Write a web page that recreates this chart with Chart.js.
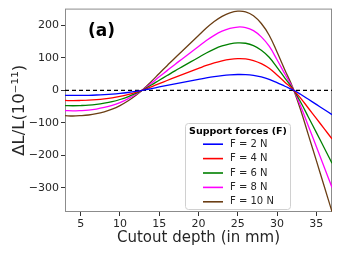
<!DOCTYPE html>
<html>
<head>
<meta charset="utf-8">
<script src="https://cdn.jsdelivr.net/npm/chart.js@4"></script>
<style>
  html, body { margin: 0; padding: 0; background: #fff; }
  #wrap { width: 339px; height: 254px; }
</style>
</head>
<body>
<div id="wrap"><canvas id="cutoutChart" width="339" height="254"></canvas></div>
<script>
// cutout depth in mm
const depths = [3, 4, 5, 6, 7, 8, 9, 10, 11, 12, 13, 14, 15, 16, 17, 18, 19, 20,
    21, 22, 23, 24, 25, 26, 27, 28, 29, 30, 31, 32, 33, 34, 35, 36, 37];

// dL/L (1e-11), one list per support force
const f2N = [-15.6, -15.8, -15.6, -15.2, -14.4, -13.2, -11.6, -9.4, -6.6, -3.2, 0.8, 5.5, 10.4, 15.2, 20, 24.6, 29.2, 33.8,
    38.4, 42.4, 45.6, 47.8, 48.8, 48.4, 46, 41.2, 34, 23.6, 12.6, 1.8, -12, -27.6, -43.2, -59, -74.8];
const f4N = [-31.2, -31.6, -31.2, -30.4, -28.8, -26.4, -23.2, -18.8, -13.2, -6.4, 1.6, 11, 20.8, 30.4, 40, 49.2, 58.4, 67.6,
    76.8, 84.8, 91.2, 95.6, 97.6, 96.8, 92, 82.4, 68, 47.2, 25.2, 3.6, -24, -55.2, -86.4, -118, -149.6];
const f6N = [-46.8, -47.4, -46.8, -45.6, -43.2, -39.6, -34.8, -28.2, -19.8, -9.6, 2.4, 16.5, 31.2, 45.6, 60, 73.8, 87.6, 101.4,
    115.2, 127.2, 136.8, 143.4, 146.4, 145.2, 138, 123.6, 102, 70.8, 37.8, 5.4, -36, -82.8, -129.6, -177, -224.4];
const f8N = [-62.4, -63.2, -62.4, -60.8, -57.6, -52.8, -46.4, -37.6, -26.4, -12.8, 3.2, 22, 41.6, 60.8, 80, 98.4, 116.8, 135.2,
    153.6, 169.6, 182.4, 191.2, 195.2, 193.6, 184, 164.8, 136, 94.4, 50.4, 7.2, -48, -110.4, -172.8, -236, -299.2];
const f10N = [-78, -79, -78, -76, -72, -66, -58, -47, -33, -16, 4, 27.5, 52, 76, 100, 123, 146, 169,
    192, 212, 228, 239, 244, 242, 230, 206, 170, 118, 63, 9, -60, -138, -216, -295, -374];

const seriesLabels = ['F = 2 N', 'F = 4 N', 'F = 6 N', 'F = 8 N', 'F = 10 N'];
const seriesColors = ['#0000ff', '#ff0000', '#008000', '#ff00ff', '#6b3e14'];

const xTicks = [5, 10, 15, 20, 25, 30, 35];
const yTicks = [-300, -200, -100, 0, 100, 200];

const FONT = 'DejaVu Sans';

function toPoints(values) {
    return values.map((v, i) => ({ x: depths[i], y: v }));
}

const seriesData = [f2N, f4N, f6N, f8N, f10N];

const datasets = seriesData.map((vals, i) => ({
    label: seriesLabels[i],
    data: toPoints(vals),
    borderColor: seriesColors[i],
    backgroundColor: seriesColors[i],
    borderWidth: 1.3,
    pointRadius: 0,
    tension: 0.4,
    order: 1
}));

// zero reference line
datasets.push({
    label: 'zero',
    data: [{ x: depths[0], y: 0 }, { x: depths[depths.length - 1], y: 0 }],
    borderColor: '#000',
    borderWidth: 1.2,
    borderDash: [4, 3],
    pointRadius: 0,
    order: 2
});

// frame, panel tag and legend box
const decorPlugin = {
    id: 'decor',
    beforeDatasetsDraw(chart) {
        const { ctx, chartArea: a } = chart;
        ctx.save();
        ctx.strokeStyle = '#8c8c8c';
        ctx.lineWidth = 1;
        ctx.strokeRect(a.left + 0.5, a.top + 0.5, a.right - a.left - 1, a.bottom - a.top - 1);
        ctx.restore();
    },
    afterDraw(chart) {
        const { ctx } = chart;
        ctx.save();
        ctx.fillStyle = '#000';
        ctx.font = 'bold 17px "' + FONT + '"';
        ctx.textBaseline = 'middle';
        ctx.fillText('(a)', 88, 32);

        // legend
        const lx = 185, ly = 123, lw = 105, lh = 86;
        ctx.fillStyle = 'rgba(255,255,255,0.9)';
        ctx.strokeStyle = '#d0d0d0';
        ctx.lineWidth = 1;
        ctx.beginPath();
        ctx.roundRect(lx + 0.5, ly + 0.5, lw, lh, 3);
        ctx.fill();
        ctx.stroke();

        ctx.fillStyle = '#000';
        ctx.font = 'bold 9.5px "' + FONT + '"';
        ctx.textAlign = 'center';
        ctx.fillText('Support forces (F)', 238, 131.5);

        ctx.textAlign = 'left';
        ctx.font = '10px "' + FONT + '"';
        seriesLabels.forEach((lab, i) => {
            const y = 144.2 + i * 14.4;
            ctx.strokeStyle = seriesColors[i];
            ctx.lineWidth = 1.6;
            ctx.beginPath();
            ctx.moveTo(203, y);
            ctx.lineTo(223, y);
            ctx.stroke();
            ctx.fillStyle = '#262626';
            ctx.fillText(lab, 230, y);
        });
        ctx.restore();
    }
};

const config = {
    type: 'line',
    data: { datasets: datasets },
    options: {
        responsive: false,
        animation: false,
        layout: { padding: { top: 7, right: 7, left: 0, bottom: 0 } },
        plugins: {
            legend: { display: false },
            tooltip: { enabled: false }
        },
        scales: {
            x: {
                type: 'linear',
                min: 3,
                max: 37,
                afterBuildTicks: (scale) => { scale.ticks = xTicks.map(v => ({ value: v })); },
                afterFit: (scale) => { scale.height = 42; },
                grid: { drawOnChartArea: false, drawTicks: true, tickLength: 4, tickColor: '#333' },
                border: { display: false },
                ticks: { color: '#262626', font: { family: FONT, size: 11 }, padding: 2, maxRotation: 0 },
                title: {
                    display: true,
                    text: 'Cutout depth (in mm)',
                    color: '#262626',
                    font: { family: FONT, size: 15 },
                    padding: { top: 0, bottom: 7 }
                }
            },
            y: {
                type: 'linear',
                min: -375,
                max: 252,
                afterBuildTicks: (scale) => { scale.ticks = yTicks.map(v => ({ value: v })); },
                afterFit: (scale) => { scale.width = 65; },
                grid: { drawOnChartArea: false, drawTicks: true, tickLength: 4, tickColor: '#333' },
                border: { display: false },
                ticks: {
                    color: '#262626',
                    font: { family: FONT, size: 11 },
                    padding: 2,
                    callback: (v) => String(v).replace('-', '\u2212')
                },
                title: {
                    display: true,
                    text: '\u0394L/L(10\u207B\u00B9\u00B9)',
                    color: '#262626',
                    font: { family: FONT, size: 16.5 },
                    padding: { top: 10, bottom: 0 }
                }
            }
        }
    },
    plugins: [decorPlugin]
};

const ctx = document.getElementById('cutoutChart').getContext('2d');
const cutoutChart = new Chart(ctx, config);
</script>
</body>
</html>
